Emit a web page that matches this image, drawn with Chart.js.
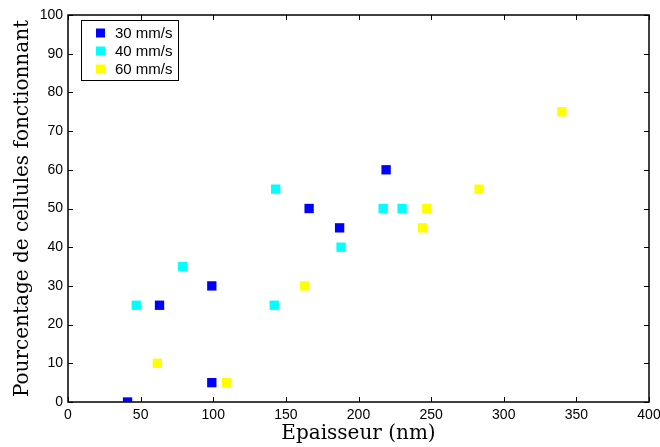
<!DOCTYPE html>
<html><head><meta charset="utf-8">
<script src="https://cdn.jsdelivr.net/npm/chart.js@4/dist/chart.umd.min.js"></script>
<style>html,body{margin:0;padding:0;background:#fff}#wrap{width:660px;height:447px}</style>
</head><body><div id="wrap"><canvas id="c" width="660" height="447"></canvas></div>
<script>
const seriesLabels = ['30 mm/s', '40 mm/s', '60 mm/s'];
const seriesColors = ['#0000ff', '#00ffff', '#ffff00'];
const blueX = [41, 63, 99, 99, 166, 187, 219];
const blueY = [0, 25, 30, 5, 50, 45, 60];
const cyanX = [47, 79, 143, 142, 188, 217, 230];
const cyanY = [25, 35, 55, 25, 40, 50, 50];
const yellowX = [61.5, 109, 163, 244, 247, 283, 340];
const yellowY = [10, 5, 30, 45, 50, 55, 75];
const xTicks = [0, 50, 100, 150, 200, 250, 300, 350, 400];
const yTicks = [0, 10, 20, 30, 40, 50, 60, 70, 80, 90, 100];

function pts(xs, ys) { return xs.map((x, i) => ({x: x, y: ys[i]})); }
const seriesData = [pts(blueX, blueY), pts(cyanX, cyanY), pts(yellowX, yellowY)];

const frame = {
  id: 'frame',
  afterDatasetsDraw(chart) {
    const ctx = chart.ctx, a = chart.chartArea;
    const xs = chart.scales.x, ys = chart.scales.y;
    ctx.save();
    ctx.strokeStyle = '#000';
    ctx.lineWidth = 1;
    ctx.beginPath();
    const L = 5;
    xTicks.forEach(v => {
      const p = Math.round(xs.getPixelForValue(v)) + 0.5;
      ctx.moveTo(p, a.bottom); ctx.lineTo(p, a.bottom - L);
      ctx.moveTo(p, a.top); ctx.lineTo(p, a.top + L);
    });
    yTicks.forEach(v => {
      const p = Math.round(ys.getPixelForValue(v)) + 0.5;
      ctx.moveTo(a.left, p); ctx.lineTo(a.left + L, p);
      ctx.moveTo(a.right, p); ctx.lineTo(a.right - L, p);
    });
    ctx.stroke();
    ctx.lineWidth = 1.5;
    ctx.strokeRect(a.left, a.top, a.right - a.left, a.bottom - a.top);
    // legend
    const bx = a.left + 13, by = a.top + 5, bw = 97, bh = 60;
    ctx.fillStyle = '#fff';
    ctx.fillRect(bx, by, bw, bh);
    ctx.lineWidth = 1;
    ctx.strokeRect(bx + 0.5, by + 0.5, bw, bh);
    ctx.font = '15px "Liberation Sans", Arial, sans-serif';
    ctx.textBaseline = 'middle';
    chart.data.datasets.forEach((ds, i) => {
      const cy = by + 13 + i * 18;
      ctx.fillStyle = ds.backgroundColor;
      ctx.fillRect(bx + 15, cy - 4.5, 9, 9);
      ctx.fillStyle = '#000';
      ctx.fillText(ds.label, bx + 34, cy + 1);
    });
    ctx.restore();
  }
};

new Chart(document.getElementById('c'), {
  type: 'scatter',
  data: {
    datasets: seriesLabels.map((l, i) => ({
      label: l,
      data: seriesData[i],
      backgroundColor: seriesColors[i],
      borderColor: seriesColors[i],
      borderWidth: 0,
      pointStyle: 'rect',
      pointRadius: 6.6,
      pointHoverRadius: 6.6
    }))
  },
  options: {
    responsive: false,
    animation: false,
    devicePixelRatio: 1,
    layout: { padding: { left: 0, top: 15, right: 11, bottom: 0 } },
    plugins: { legend: { display: false }, tooltip: { enabled: false } },
    scales: {
      x: {
        type: 'linear', min: 0, max: 400,
        afterBuildTicks: s => { s.ticks = xTicks.map(v => ({value: v})); },
        afterFit: s => { s.height = 45; s.paddingRight = 0; s.paddingLeft = 0; },
        grid: { display: false, drawTicks: false },
        border: { display: false },
        ticks: { padding: 5, color: '#000', font: { family: '"Liberation Sans", Arial, sans-serif', size: 14 } },
        title: { display: true, text: 'Epaisseur (nm)', color: '#000', padding: { top: 0, bottom: 1 },
                 font: { family: '"DejaVu Serif", serif', size: 20 } }
      },
      y: {
        type: 'linear', min: 0, max: 100,
        afterBuildTicks: s => { s.ticks = yTicks.map(v => ({value: v})); },
        afterFit: s => { s.width = 68; },
        grid: { display: false, drawTicks: false },
        border: { display: false },
        ticks: { padding: 5, color: '#000', font: { family: '"Liberation Sans", Arial, sans-serif', size: 14 } },
        title: { display: true, text: 'Pourcentage de cellules fonctionnant', color: '#000', padding: { top: 11, bottom: 0 },
                 font: { family: '"DejaVu Serif", serif', size: 20 } }
      }
    }
  },
  plugins: [frame]
});
</script></body></html>
